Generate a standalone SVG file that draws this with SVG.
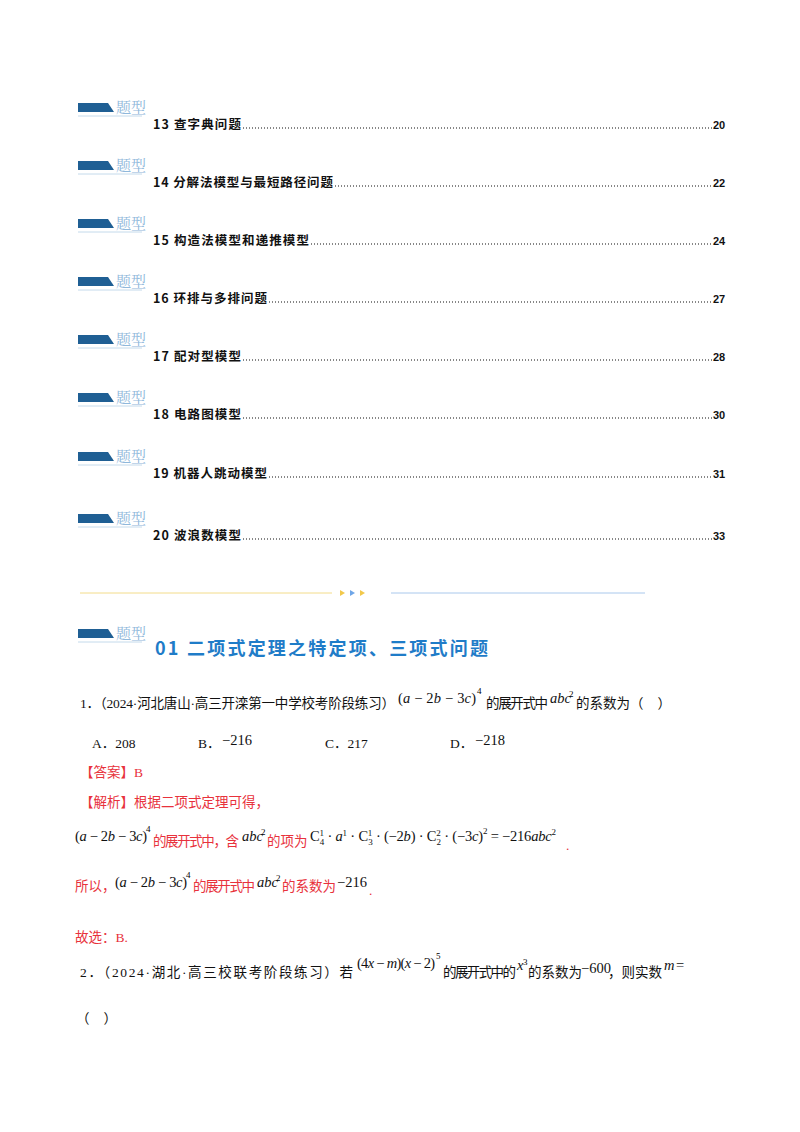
<svg xmlns="http://www.w3.org/2000/svg" width="800" height="1132" viewBox="0 0 800 1132" xml:space="preserve">
<defs>
<style>
.bd{fill:#1f5f94}
.bt{font-family:"Noto Serif CJK SC","Noto Sans CJK SC",serif;font-size:15px;fill:#8fb8db}
.toc{font-family:"Noto Sans CJK SC",sans-serif;font-size:12.5px;font-weight:bold;fill:#111}
.pg{font-family:"Liberation Sans",sans-serif;font-size:11px;font-weight:bold;fill:#111}
.dot{stroke:#111;stroke-width:1.2;stroke-dasharray:1 2}
.t{font-family:"Liberation Serif","Noto Sans CJK SC",serif;font-size:13.5px;fill:#111}
.r{font-family:"Liberation Serif","Noto Sans CJK SC",serif;font-size:13.5px;fill:#e8323c}
.m{font-family:"Liberation Serif",serif;font-style:italic;font-size:14.5px;fill:#111}
.mn{font-family:"Liberation Serif",serif;font-size:14.5px;fill:#111}
.sup{font-family:"Liberation Serif",serif;font-size:9px}
</style>
<g id="badge"><path d="M0,0 H30 L36,9 H0 Z" class="bd"/><text x="38" y="10" class="bt">题型</text><line x1="0" y1="13" x2="64" y2="13" stroke="#b5d0e6" stroke-width="0.8"/></g>
</defs>
<g id="toc">
<use href="#badge" x="78" y="103"/><text x="153" y="129" class="toc" textLength="88" lengthAdjust="spacing">13 查字典问题</text><line x1="243" y1="128" x2="712" y2="128" class="dot"/><text x="713" y="129" class="pg">20</text>
<use href="#badge" x="78" y="161"/><text x="153" y="187" class="toc" textLength="180" lengthAdjust="spacing">14 分解法模型与最短路径问题</text><line x1="335" y1="186" x2="712" y2="186" class="dot"/><text x="713" y="187" class="pg">22</text>
<use href="#badge" x="78" y="219"/><text x="153" y="245" class="toc" textLength="156" lengthAdjust="spacing">15 构造法模型和递推模型</text><line x1="311" y1="244" x2="712" y2="244" class="dot"/><text x="713" y="245" class="pg">24</text>
<use href="#badge" x="78" y="277"/><text x="153" y="303" class="toc" textLength="114" lengthAdjust="spacing">16 环排与多排问题</text><line x1="269" y1="302" x2="712" y2="302" class="dot"/><text x="713" y="303" class="pg">27</text>
<use href="#badge" x="78" y="335"/><text x="153" y="361" class="toc" textLength="88" lengthAdjust="spacing">17 配对型模型</text><line x1="243" y1="360" x2="712" y2="360" class="dot"/><text x="713" y="361" class="pg">28</text>
<use href="#badge" x="78" y="393"/><text x="153" y="419" class="toc" textLength="88" lengthAdjust="spacing">18 电路图模型</text><line x1="243" y1="418" x2="712" y2="418" class="dot"/><text x="713" y="419" class="pg">30</text>
<use href="#badge" x="78" y="452"/><text x="153" y="478" class="toc" textLength="114" lengthAdjust="spacing">19 机器人跳动模型</text><line x1="269" y1="477" x2="712" y2="477" class="dot"/><text x="713" y="478" class="pg">31</text>
<use href="#badge" x="78" y="514"/><text x="153" y="540" class="toc" textLength="88" lengthAdjust="spacing">20 波浪数模型</text><line x1="243" y1="539" x2="712" y2="539" class="dot"/><text x="713" y="540" class="pg">33</text>
</g>
<g id="divider">
<line x1="80" y1="593" x2="332" y2="593" stroke="#f3dc8a" stroke-width="1"/>
<line x1="391" y1="593" x2="645" y2="593" stroke="#a9c8ec" stroke-width="1"/>
<path d="M340,590 l5,3 l-5,3z" fill="#f2c84b"/><path d="M350,590 l5,3 l-5,3z" fill="#6fa6e8"/><path d="M360,590 l5,3 l-5,3z" fill="#f2c84b"/>
</g>
<g id="heading">
<use href="#badge" x="78" y="629"/>
<text x="155" y="655" font-family="Noto Sans CJK SC,sans-serif" font-size="18" font-weight="bold" fill="#1f7cc8" textLength="333" lengthAdjust="spacing">01 二项式定理之特定项、三项式问题</text>
</g>
<g id="q1">
<text x="80" y="708" class="t" textLength="315" lengthAdjust="spacing">1．（2024·河北唐山·高三开滦第一中学校考阶段练习）</text>
<text x="398" y="703" class="mn" textLength="78" lengthAdjust="spacing">(<tspan class="m">a</tspan> − 2<tspan class="m">b</tspan> − 3<tspan class="m">c</tspan>)</text><text x="477" y="694" class="sup">4</text>
<text x="486" y="708" class="t" textLength="62" lengthAdjust="spacing">的展开式中</text><text x="550" y="703" class="m">abc</text><text x="569" y="697" class="sup">2</text><text x="576" y="708" class="t">的系数为（<tspan dx="14">）</tspan></text>
<text x="92" y="748" class="t">A．208</text>
<text x="198" y="748" class="t">B．</text><text x="222" y="745" class="mn">−216</text>
<text x="325" y="748" class="t">C．217</text>
<text x="450" y="748" class="t">D．</text><text x="475" y="745" class="mn">−218</text>
<text x="80" y="777" class="r">【答案】B</text>
<text x="80" y="807" class="r">【解析】根据二项式定理可得，</text>
<text x="75" y="841" class="mn" textLength="72" lengthAdjust="spacing">(<tspan class="m">a</tspan> − 2<tspan class="m">b</tspan> − 3<tspan class="m">c</tspan>)</text><text x="146" y="832" class="sup">4</text>
<text x="153" y="846" class="r" textLength="86" lengthAdjust="spacing">的展开式中，含</text><text x="242" y="841" class="m">abc</text><text x="261" y="835" class="sup">2</text><text x="267" y="846" class="r">的项为</text>
<text x="310" y="841" class="mn" textLength="246" lengthAdjust="spacing">C<tspan class="sup" dy="-5">1</tspan><tspan class="sup" dx="-4" dy="9">4</tspan><tspan dy="-4"> · </tspan><tspan class="m">a</tspan><tspan class="sup" dy="-5">1</tspan><tspan dy="5"> · C</tspan><tspan class="sup" dy="-5">1</tspan><tspan class="sup" dx="-4" dy="9">3</tspan><tspan dy="-4"> · (−2</tspan><tspan class="m">b</tspan>) · C<tspan class="sup" dy="-5">2</tspan><tspan class="sup" dx="-4" dy="9">2</tspan><tspan dy="-4"> · (−3</tspan><tspan class="m">c</tspan>)<tspan class="sup" dy="-7">2</tspan><tspan dy="7"> = −216</tspan><tspan class="m">abc</tspan><tspan class="sup" dy="-6">2</tspan></text>
<text x="566" y="850" class="r">.</text>
<text x="75" y="891" class="r">所以，</text>
<text x="115" y="887" class="mn" textLength="72" lengthAdjust="spacing">(<tspan class="m">a</tspan> − 2<tspan class="m">b</tspan> − 3<tspan class="m">c</tspan>)</text><text x="186" y="878" class="sup">4</text>
<text x="193" y="891" class="r" textLength="62" lengthAdjust="spacing">的展开式中</text><text x="257" y="887" class="m">abc</text><text x="276" y="881" class="sup">2</text><text x="282" y="891" class="r">的系数为</text><text x="337" y="887" class="mn">−216</text><text x="369" y="895" class="r">.</text>
<text x="75" y="942" class="r">故选：B.</text>
</g>
<g id="q2">
<text x="80" y="977" class="t" textLength="273" lengthAdjust="spacing">2．（2024·湖北·高三校联考阶段练习）若</text>
<text x="357" y="968" class="mn" textLength="78" lengthAdjust="spacing">(4<tspan class="m">x</tspan> − <tspan class="m">m</tspan>)(<tspan class="m">x</tspan> − 2)</text><text x="436" y="959" class="sup">5</text>
<text x="443" y="977" class="t" textLength="73" lengthAdjust="spacing">的展开式中的</text><text x="517" y="970" class="m" font-size="12">x</text><text x="523" y="965" class="sup" font-size="7">3</text>
<text x="528" y="977" class="t">的系数为</text><text x="581" y="973" class="mn" font-size="11">−600</text><text x="608" y="977" class="t">，则实数</text><text x="664" y="970" class="m">m</text><text x="676" y="970" class="mn" font-size="11">=</text>
<text x="76" y="1023" class="t">（<tspan dx="14">）</tspan></text>
</g>
</svg>
